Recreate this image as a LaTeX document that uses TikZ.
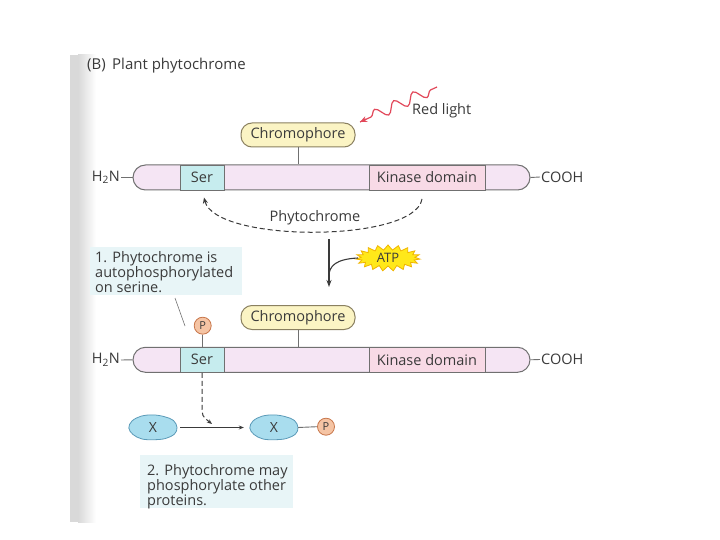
\documentclass[tikz,border=0pt]{standalone}
\usepackage{fontspec}
\setmainfont{Open Sans}
\usetikzlibrary{shapes.symbols,shapes.geometric,decorations.pathmorphing,arrows.meta,calc}
\definecolor{txt}{HTML}{3A3A3A}
\definecolor{edge}{HTML}{707070}
\definecolor{barfill}{HTML}{F5E5F4}
\definecolor{serfill}{HTML}{C6ECEE}
\definecolor{kinfill}{HTML}{F8DAE6}
\definecolor{chromfill}{HTML}{FBF4C4}
\definecolor{chromedge}{HTML}{8A8060}
\definecolor{calloutbg}{HTML}{E8F5F7}
\definecolor{xfill}{HTML}{A9DDEE}
\definecolor{xedge}{HTML}{5A9AB8}
\definecolor{pfill}{HTML}{F5C4A4}
\definecolor{pedge}{HTML}{C8764A}
\definecolor{atpfill}{HTML}{FFE81A}
\definecolor{atpedge}{HTML}{F0B400}
\definecolor{redlight}{HTML}{E2485A}
\tikzset{
  lbl/.style={text=txt, font=\fontsize{14.5}{14.5}\selectfont, inner sep=1pt},
  barbox/.style={draw=edge, fill=barfill, line width=1pt, rounded corners=12.5pt,
    minimum width=397pt, minimum height=25pt, inner sep=0pt},
  serbox/.style={draw=edge, fill=serfill, line width=0.9pt, minimum width=44pt,
    minimum height=25pt, inner sep=0pt, text=txt, font=\fontsize{14.5}{14.5}\selectfont},
  kinbox/.style={draw=edge, fill=kinfill, line width=0.9pt, minimum width=116pt,
    minimum height=25pt, inner sep=0pt, text=txt, font=\fontsize{14.5}{14.5}\selectfont},
  chrom/.style={draw=chromedge, fill=chromfill, line width=1pt, rounded corners=11pt,
    minimum width=114pt, minimum height=24pt, inner sep=0pt, text=txt,
    font=\fontsize{14.5}{14.5}\selectfont},
  phos/.style={circle, draw=pedge, fill=pfill, line width=0.8pt, minimum size=17pt,
    inner sep=0pt, text=txt, font=\fontsize{11}{11}\selectfont},
  protx/.style={ellipse, minimum width=48pt, minimum height=25pt, inner sep=0pt,
    text=txt, font=\fontsize{14}{14}\selectfont},
  blob/.style={draw=xedge, fill=xfill, line width=0.8pt},
  conn/.style={draw=edge, line width=0.9pt},
  callout/.style={text=txt, align=left, anchor=north west, inner sep=0pt,
    font=\fontsize{14.5}{14.3}\selectfont},
}
\begin{document}
\begin{tikzpicture}[x=1pt,y=-1pt]
\useasboundingbox (0,0) rectangle (720,540);
\fill[white] (0,0) rectangle (720,540);
% scanned page edge
\fill[gray!30] (70,55) rectangle (78,522);
\shade[left color=gray!30, right color=white] (78,55) rectangle (96,522);

% title
\node[lbl, anchor=west, font=\fontsize{15}{15}\selectfont] (title) at (86,66) {(B)\, Plant phytochrome};

% ---------------- top protein ----------------
\node[barbox] (bar1) at (331.5,177.5) {};
\node[serbox] (ser1) at (202,177.5) {Ser};
\node[kinbox] (kin1) at (427,177.5) {Kinase domain};
\node[chrom] (chr1) at (298,135) {Chromophore};
\draw[conn] (chr1.south) -- (chr1.south |- bar1.north);
\node[lbl, anchor=east] (nt1) at (121,177.5) {H\textsubscript{2}N};
\node[lbl, anchor=west] (ct1) at (540,177) {COOH};
\draw[conn] (nt1.east) -- (bar1.west);
\draw[conn] (bar1.east) -- (ct1.west);

% red light
\node[lbl, anchor=west] (red) at (411,111) {Red light};
\coordinate (rl1) at (437,87);
\coordinate (rl2) at (360,122);
\draw[redlight, line width=1.2pt, decorate,
  decoration={snake, amplitude=5.5pt, segment length=21pt, pre length=7pt, post length=6pt}]
  (rl1) -- (rl2);
\draw[redlight, line width=1.2pt, -{Stealth[length=7pt,width=6pt]}] ($(rl2)!0.08!(rl1)$) -- (rl2);

% phytochrome auto loop
\coordinate (loopstart) at (422,199);
\node[lbl] (phy) at (315,218) {Phytochrome};
\draw[txt, line width=1pt, dash pattern=on 5pt off 3pt, -{Stealth[length=6pt,width=5pt]}]
  (loopstart) .. controls (415,243) and (215,243) .. (204,197.5);

% main arrow with ATP
\coordinate (ma1) at (329,239);
\coordinate (ma2) at (329,287);
\draw[txt, line width=1.3pt, -{Stealth[length=7pt,width=5pt]}] (ma1) -- (ma2);
\node[starburst, starburst points=19, starburst point height=5pt, random starburst=0,
  fill=atpfill, draw=atpedge, line width=0.8pt, minimum width=64pt, minimum height=21pt,
  inner sep=1pt, text=txt, font=\fontsize{13}{13}\selectfont] (atp) at (388,258) {ATP};
\coordinate (atpj) at (329,276);
\draw[txt, line width=1.1pt] (atp.west) .. controls (336,259) and (329,266) .. (atpj);

% callout 1
\fill[calloutbg] (90,247) rectangle (242,295);
\node[callout] (c1) at (95,251) {1. Phytochrome is\\autophosphorylated\\on serine.};
\coordinate (lead1) at (175,298);

% ---------------- bottom protein ----------------
\node[barbox] (bar2) at (331.5,359.8) {};
\node[serbox] (ser2) at (202,359.8) {Ser};
\node[kinbox] (kin2) at (427,359.8) {Kinase domain};
\node[chrom] (chr2) at (298,317.5) {Chromophore};
\draw[conn] (chr2.south) -- (chr2.south |- bar2.north);
\node[lbl, anchor=east] (nt2) at (121,360) {H\textsubscript{2}N};
\node[lbl, anchor=west] (ct2) at (540,359.5) {COOH};
\draw[conn] (nt2.east) -- (bar2.west);
\draw[conn] (bar2.east) -- (ct2.west);
\node[phos] (p1) at (202.7,325.7) {P};
\draw[conn] (p1.south) -- (p1.south |- ser2.north);
\coordinate (lead2) at (185,326);
\draw[edge, line width=0.6pt] (lead1) -- (lead2);

% ---------------- phosphorylation of X ----------------
\draw[blob, shift={(153,427.5)}] plot[smooth cycle, tension=0.6] coordinates
  {(24,0) (21.5,6.5) (12.5,11) (1,12.2) (-11,11.5) (-20,7) (-24.2,0.5) (-21,-6.5) (-12,-11.3) (0,-12.6) (11.5,-10.8) (20.5,-7)};
\node[protx] (x1) at (153,427.5) {X};
\draw[blob, shift={(274,427.5)}] plot[smooth cycle, tension=0.6] coordinates
  {(24,0) (21.5,6.5) (12.5,11) (1,12.2) (-11,11.5) (-20,7) (-24.2,0.5) (-21,-6.5) (-12,-11.3) (0,-12.6) (11.5,-10.8) (20.5,-7)};
\node[protx] (x2) at (274,427.5) {X};
\node[phos] (p2) at (326,426.7) {P};
\draw[conn] (x2.east) -- (p2.west);
\draw[txt, line width=0.9pt, -{Stealth[length=5pt,width=4pt]}] ($(x1.east)+(3,0)$) -- ($(x2.west)+(-6,0)$);
\coordinate (dv) at (212,424);
\draw[txt, line width=1pt, dash pattern=on 5pt off 3pt, -{Stealth[length=5pt,width=4pt]}]
  (ser2.south) -- (202,405) .. controls (202,416) .. (dv);

% callout 2
\fill[calloutbg] (140,455) rectangle (293,508);
\node[callout] (c2) at (147,464) {2. Phytochrome may\\phosphorylate other\\proteins.};
\end{tikzpicture}
\end{document}
